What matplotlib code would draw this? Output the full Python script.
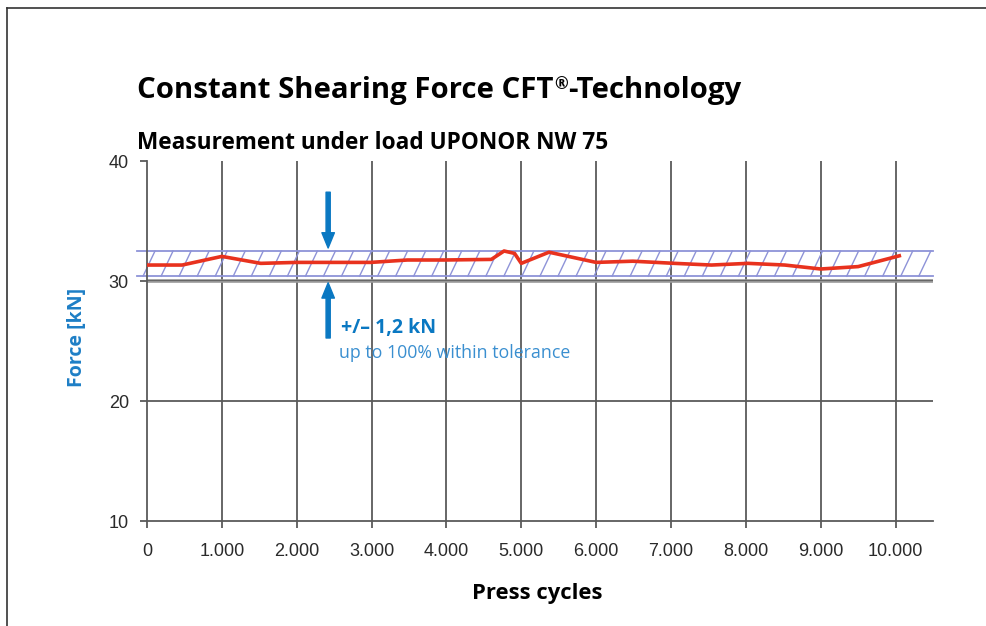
"""
Constant shearing force chart.
"""
import numpy as np
import matplotlib as mpl
mpl.use('Agg')
import matplotlib.pyplot as plt
from matplotlib.lines import Line2D

# data
cycles = [0, 470, 1000, 1520, 2000, 2990, 3480, 3970, 4600, 4770, 4910, 5000,
          5370, 6000, 6490, 7050, 7540, 8030, 8520, 9000, 9500, 10050]
force = [31.33, 31.33, 32.05, 31.47, 31.55, 31.55, 31.75, 31.75, 31.8, 32.5,
         32.3, 31.47, 32.4, 31.55, 31.65, 31.47, 31.33, 31.47, 31.33, 31.0,
         31.2, 32.1]
x_ticks = list(range(0, 11000, 1000))
x_labels = ["0", "1.000", "2.000", "3.000", "4.000", "5.000", "6.000",
            "7.000", "8.000", "9.000", "10.000"]
y_ticks = [10, 20, 30, 40]
band_lo = 30.4
band_hi = 32.5
reference_force = 30

blue = '#0a78c2'
red = '#e8321e'
lavender = '#8e93d8'
grid = '#5a5a5a'

W, H = 986, 626
fig = plt.figure(figsize=(W / 100, H / 100), dpi=100)
ax = fig.add_axes([147 / W, 1 - 521 / H, (933 - 147) / W, (521 - 161) / H])
ax.set_xlim(0, 10500)
ax.set_ylim(10, 40)

# grid
for xv in x_ticks[1:]:
    ax.plot([xv, xv], [10, 40], color=grid, lw=1.3, zorder=1)
ax.axhline(20, color=grid, lw=1.3, zorder=1)
ax.axhline(reference_force, color='#999999', lw=2.6, zorder=1)
ax.axhline(reference_force + 0.05, color='#666666', lw=0.8, zorder=1)

# tolerance band
x0 = -134
x1 = 10500
ax.plot([x0, x1], [band_hi, band_hi], color=lavender, lw=1.3, clip_on=False, zorder=2)
ax.plot([x0, x1], [band_lo, band_lo], color=lavender, lw=1.3, clip_on=False, zorder=2)
step = 241
shift = 160
for xs in np.arange(x0 - shift, x1, step):
    xa, xb = xs, xs + shift
    ya, yb = band_lo, band_hi
    if xa < x0:
        ya = band_lo + (x0 - xa) / shift * (band_hi - band_lo)
        xa = x0
    if xb > x1:
        yb = band_lo + (x1 - xs) / shift * (band_hi - band_lo)
        xb = x1
    ax.plot([xa, xb], [ya, yb], color=lavender, lw=1.0, clip_on=False, zorder=2)

ax.plot(cycles, force, color=red, lw=2.6, zorder=3, solid_joinstyle='round')

# arrows
ax.annotate('', xy=(2420, 32.75), xytext=(2420, 37.4),
            arrowprops=dict(width=3, headwidth=9, headlength=11, color=blue, shrink=0))
ax.annotate('', xy=(2420, 29.85), xytext=(2420, 25.25),
            arrowprops=dict(width=3, headwidth=9, headlength=11, color=blue, shrink=0))
ax.text(2594, 25.67, "+/\u2013 1,2 kN", color=blue, fontsize=14, fontweight='bold',
        family='Open Sans', va='baseline')
ax.text(2570, 23.6, "up to 100% within tolerance", color='#3a8fd0', fontsize=12.8,
        family='Open Sans', va='baseline')

# axes
for s in ['top', 'right']:
    ax.spines[s].set_visible(False)
ax.spines['left'].set_color(grid)
ax.spines['bottom'].set_color(grid)
ax.spines['left'].set_linewidth(1.3)
ax.spines['bottom'].set_linewidth(1.3)
ax.set_xticks(x_ticks)
ax.set_xticklabels(x_labels)
ax.set_yticks(y_ticks)
ax.tick_params(length=5, width=1.3, color=grid, labelsize=13, labelcolor='#2a2a2a')
ax.tick_params(axis='x', pad=11)
ax.tick_params(axis='y', pad=8)
for lab in ax.get_xticklabels() + ax.get_yticklabels():
    lab.set_family('Liberation Sans')

# title with superscript mark
renderer = fig.canvas.get_renderer()
ty = 1 - 98 / H
t1 = fig.text(137 / W, ty, "Constant Shearing Force CFT", fontsize=21.2,
              fontweight='bold', family='Open Sans', va='baseline')
bb = t1.get_window_extent(renderer)
t2 = fig.text(bb.x1 / W + 0.001, ty + 9 / H, "\u00ae", fontsize=12,
              fontweight='bold', family='Open Sans', va='baseline')
bb2 = t2.get_window_extent(renderer)
fig.text(bb2.x1 / W, ty, "-Technology", fontsize=21.2,
         fontweight='bold', family='Open Sans', va='baseline')

fig.text(137 / W, 1 - 149 / H, "Measurement under load UPONOR NW 75",
         fontsize=16.3, fontweight='bold', family='Open Sans', va='baseline')
fig.text(537 / W, 1 - 599 / H, "Press cycles", fontsize=15.8, fontweight='bold',
         family='Open Sans', ha='center', va='baseline')
fig.text(77 / W, 1 - 337 / H, "Force [kN]", fontsize=14, fontweight='bold',
         family='Open Sans', color='#1e7fc6', rotation=90, ha='center', va='center')

# frame
fig.add_artist(Line2D([7 / W, 1], [1 - 8 / H, 1 - 8 / H], color='#333333', lw=1.2))
fig.add_artist(Line2D([7 / W, 7 / W], [0, 1 - 8 / H], color='#333333', lw=1.2))

fig.savefig('out.png', dpi=100)
